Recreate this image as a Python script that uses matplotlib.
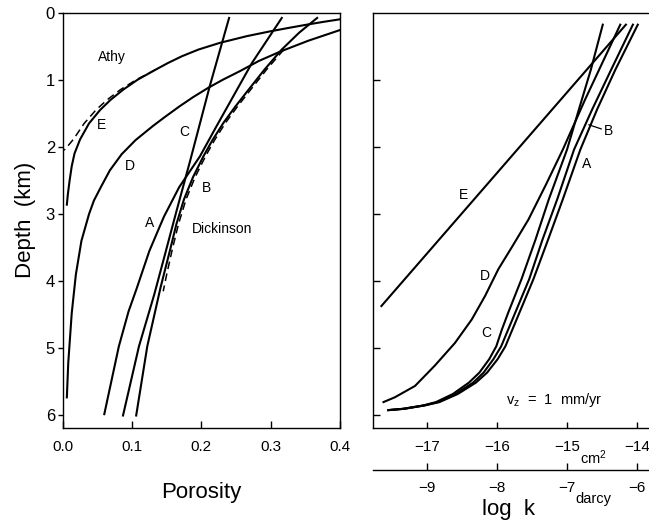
#!/usr/bin/env python3

import matplotlib.pyplot as plt

plt.rcParams['font.family'] = ['Liberation Sans', 'DejaVu Sans']
plt.rcParams['mathtext.default'] = 'regular'

# ---- left panel: porosity vs depth (km) ----
depth_E = [0.10, 0.14, 0.18, 0.23, 0.28, 0.35, 0.45, 0.55, 0.65, 0.75, 0.85, 1.00, 1.15, 1.30,
           1.45, 1.65, 1.89, 2.10, 2.29, 2.50, 2.70, 2.86]
phi_E = [0.400, 0.375, 0.352, 0.325, 0.299, 0.266, 0.227, 0.196, 0.172, 0.152, 0.134, 0.108, 0.087, 0.069,
         0.054, 0.038, 0.025, 0.017, 0.013, 0.010, 0.0075, 0.006]

depth_athy = [0.85, 1.00, 1.15, 1.30, 1.45, 1.65, 1.88, 1.98, 2.05]
phi_athy = [0.134, 0.106, 0.083, 0.064, 0.048, 0.031, 0.016, 0.008, 0.002]

depth_D = [0.26, 0.42, 0.58, 0.72, 0.87, 1.00, 1.12, 1.26, 1.40, 1.55, 1.69, 1.90, 2.11, 2.35, 2.60,
           2.80, 3.00, 3.40, 3.90, 4.48, 5.22, 5.73]
phi_D = [0.400, 0.354, 0.314, 0.283, 0.256, 0.231, 0.210, 0.188, 0.168, 0.148, 0.130, 0.105, 0.085, 0.068, 0.055,
         0.045, 0.038, 0.027, 0.019, 0.013, 0.008, 0.006]

depth_C = [0.08, 1.10, 2.20, 3.00, 3.70, 4.20, 4.97, 6.00]
phi_C = [0.240, 0.212, 0.184, 0.163, 0.145, 0.132, 0.110, 0.087]

depth_A = [0.08, 0.75, 1.69, 2.14, 2.60, 3.04, 3.55, 4.10, 4.45, 4.97, 5.98]
phi_A = [0.316, 0.273, 0.222, 0.198, 0.168, 0.146, 0.125, 0.107, 0.095, 0.081, 0.060]

depth_B = [0.08, 0.30, 0.55, 0.85, 1.15, 1.40, 1.64, 1.90, 2.14, 2.45, 2.78, 3.15, 3.53, 4.10, 4.97, 6.00]
phi_B = [0.367, 0.341, 0.316, 0.291, 0.268, 0.249, 0.232, 0.216, 0.203, 0.188, 0.175, 0.164, 0.155, 0.141, 0.122, 0.106]

depth_dick = [0.55, 0.85, 1.15, 1.40, 1.64, 1.90, 2.14, 2.45, 2.78, 3.15, 3.53, 3.90, 4.15]
phi_dick = [0.319, 0.294, 0.271, 0.252, 0.235, 0.219, 0.206, 0.191, 0.178, 0.167, 0.158, 0.150, 0.145]

# ---- right panel: log k (cm^2) vs depth (km) ----
rdepth_E = [4.37, 0.18]
logk_E = [-17.65, -14.16]

rdepth_D = [5.80, 5.73, 5.56, 5.26, 4.92, 4.57, 4.22, 3.82, 3.48, 3.08, 2.56, 2.04, 1.29, 0.18]
logk_D = [-17.62, -17.46, -17.17, -16.89, -16.60, -16.36, -16.17, -15.98, -15.78, -15.55, -15.30, -15.06, -14.74, -14.24]

rdepth_ABC = [5.92, 5.90, 5.85, 5.80, 5.68, 5.51, 5.36, 5.16, 4.97, 4.72, 4.47, 3.97, 3.38, 2.78, 2.04, 1.44, 0.85, 0.18]
logk_C = [-17.55, -17.34, -17.05, -16.87, -16.63, -16.40, -16.25, -16.11, -16.01, -15.93, -15.84, -15.65, -15.45, -15.26, -15.00, -14.83, -14.66, -14.49]
logk_A = [-17.55, -17.33, -17.04, -16.84, -16.59, -16.34, -16.19, -16.05, -15.94, -15.84, -15.74, -15.54, -15.35, -15.14, -14.90, -14.64, -14.37, -14.06]
logk_B = [-17.55, -17.32, -17.03, -16.82, -16.56, -16.30, -16.14, -15.99, -15.88, -15.78, -15.68, -15.48, -15.27, -15.06, -14.81, -14.57, -14.31, -13.99]

depth_ticks = [0, 1, 2, 3, 4, 5, 6]
phi_ticks = [0.0, 0.1, 0.2, 0.3, 0.4]
phi_labels = ['0.0', '0.1', '0.2', '0.3', '0.4']
cm2_ticks = [-17, -16, -15, -14]
darcy_ticks = [-9, -8, -7, -6]

LW = 1.5


def minus(vals):
    return [str(v).replace('-', '\u2212') for v in vals]


def left_panel(ax):
    ax.plot(phi_E, depth_E, color='black', lw=LW)
    ax.plot(phi_athy, depth_athy, color='black', lw=1.1, ls=(0, (5, 3)))
    ax.plot(phi_D, depth_D, color='black', lw=LW)
    ax.plot(phi_C, depth_C, color='black', lw=LW)
    ax.plot(phi_A, depth_A, color='black', lw=LW)
    ax.plot(phi_B, depth_B, color='black', lw=LW)
    ax.plot(phi_dick, depth_dick, color='black', lw=1.1, ls=(0, (5, 3)))

    ax.set_xlim(0, 0.4)
    ax.set_ylim(6.18, 0)
    ax.set_yticks(depth_ticks)
    ax.set_xticks(phi_ticks)
    ax.set_xticklabels(phi_labels)
    ax.tick_params(axis='y', direction='out', length=3.5, width=1, labelsize=12, pad=2)
    ax.tick_params(axis='x', direction='in', length=5, width=1, labelsize=11, pad=9)
    ax.set_ylabel('Depth  (km)', fontsize=16, labelpad=7)
    ax.set_xlabel('Porosity', fontsize=16, labelpad=20)

    lab = dict(fontsize=10, ha='center', va='center')
    ax.text(0.071, 0.66, 'Athy', **lab)
    ax.text(0.056, 1.68, 'E', **lab)
    ax.text(0.097, 2.29, 'D', **lab)
    ax.text(0.176, 1.78, 'C', **lab)
    ax.text(0.208, 2.61, 'B', **lab)
    ax.text(0.126, 3.13, 'A', **lab)
    ax.text(0.186, 3.23, 'Dickinson', fontsize=10, ha='left', va='center')


def right_panel(ax):
    ax.plot(logk_E, rdepth_E, color='black', lw=LW)
    ax.plot(logk_D, rdepth_D, color='black', lw=LW)
    ax.plot(logk_C, rdepth_ABC, color='black', lw=LW)
    ax.plot(logk_A, rdepth_ABC, color='black', lw=LW)
    ax.plot(logk_B, rdepth_ABC, color='black', lw=LW)

    ax.set_xlim(-17.77, -13.83)
    ax.set_ylim(6.18, 0)
    ax.set_yticks(depth_ticks[1:])
    ax.set_yticklabels([])
    ax.tick_params(axis='y', direction='in', length=5, width=1)
    ax.set_xticks(cm2_ticks)
    ax.set_xticklabels(minus(cm2_ticks))
    ax.tick_params(axis='x', direction='in', length=4, width=1, labelsize=11, pad=9)
    ax.spines['right'].set_visible(False)

    # darcy scale: log k(darcy) = log k(cm2) + 8
    sec = ax.secondary_xaxis(-0.102, functions=(lambda x: x + 8, lambda x: x - 8))
    sec.set_xticks(darcy_ticks)
    sec.set_xticklabels(minus(darcy_ticks))
    sec.tick_params(axis='x', direction='in', length=5, width=1, labelsize=11, pad=8)
    sec.spines['bottom'].set_linewidth(1)

    lab = dict(fontsize=10, ha='center', va='center')
    ax.text(-16.48, 2.71, 'E', **lab)
    ax.text(-16.17, 3.92, 'D', **lab)
    ax.text(-16.15, 4.77, 'C', **lab)
    ax.text(-14.72, 2.26, 'A', **lab)
    ax.annotate('B', xy=(-14.69, 1.67), xytext=(-14.47, 1.77), fontsize=10,
                ha='left', va='center',
                arrowprops=dict(arrowstyle='-', color='black', lw=0.9,
                                shrinkA=0, shrinkB=0))
    ax.text(-15.87, 5.77, 'v$_z$  =  1  mm/yr', fontsize=10.5, ha='left', va='center')

    ax.text(0.80, -0.072, 'cm$^2$', transform=ax.transAxes, fontsize=10.5, ha='center', va='center')
    ax.text(0.80, -0.171, 'darcy', transform=ax.transAxes, fontsize=10.5, ha='center', va='center')
    ax.text(0.49, -0.197, 'log  k', transform=ax.transAxes, fontsize=16, ha='center', va='center')


def main():
    fig = plt.figure(figsize=(6.49, 5.24), dpi=100)
    ax1 = fig.add_axes([0.0966, 0.184, 0.4273, 0.792])
    ax2 = fig.add_axes([0.5747, 0.184, 0.4253, 0.792])

    for ax in (ax1, ax2):
        for sp in ax.spines.values():
            sp.set_linewidth(1)

    left_panel(ax1)
    right_panel(ax2)

    fig.savefig('out.png', dpi=100)


if __name__ == "__main__":
    main()
